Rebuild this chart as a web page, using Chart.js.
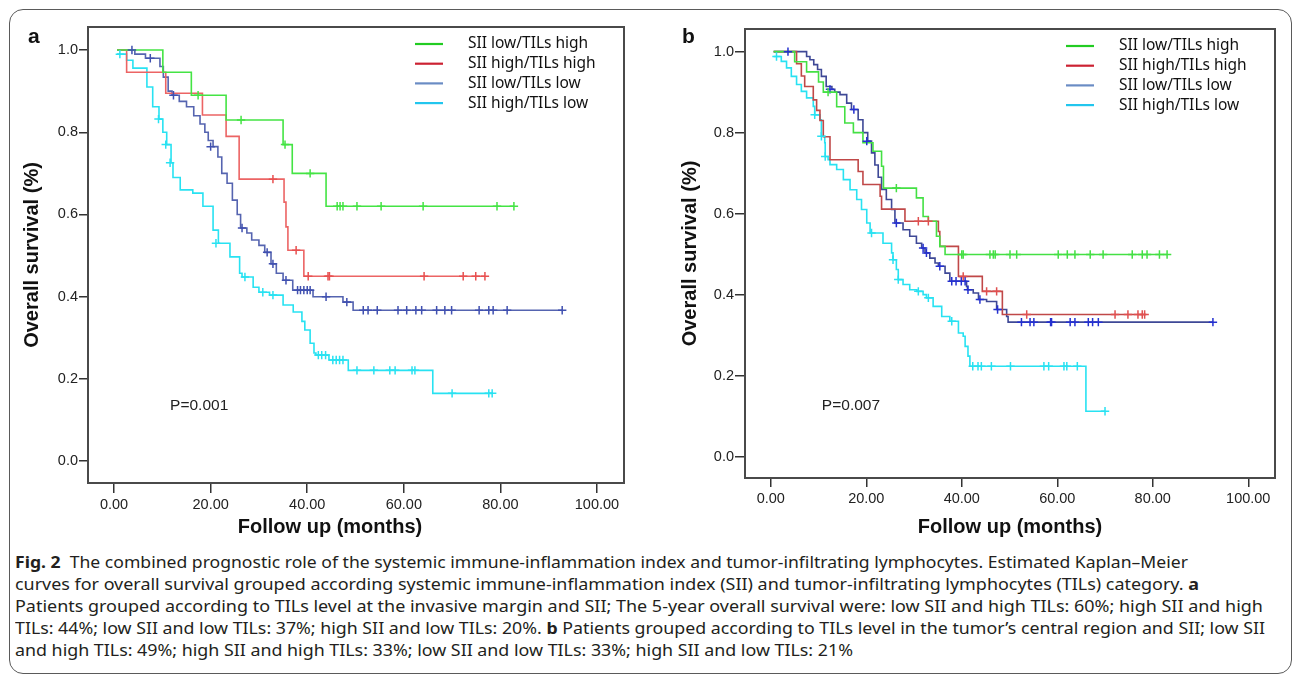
<!DOCTYPE html>
<html>
<head>
<meta charset="utf-8">
<script src="https://cdn.jsdelivr.net/npm/chart.js@4.4.1/dist/chart.umd.min.js"></script>
<style>
  html, body { margin: 0; padding: 0; background: #fff; }
  #fig { position: relative; width: 1292px; height: 687px; overflow: hidden; }
  #frame { position: absolute; left: 9px; top: 9px; width: 1281px; height: 663px;
           border: 1px solid #5a5a5a; border-radius: 14px; }
  canvas { position: absolute; top: 0; }
  #ca { left: 0; }
  #cb { left: 650px; }
  .lbl { position: absolute; top: 24px; font: bold 21px "Liberation Sans", Arial, sans-serif; color: #111; }
  #caption { position: absolute; left: 15px; top: 551px; font-family: "Noto Sans", sans-serif;
             font-size: 15.5px; line-height: 22px; color: #231f20; }
  #caption div { white-space: nowrap; transform-origin: 0 50%; width: max-content; }
</style>
</head>
<body>
<div id="fig">
  <div id="frame"></div>
  <canvas id="ca" width="650" height="545"></canvas>
  <canvas id="cb" width="642" height="545"></canvas>
  <div class="lbl" style="left:28px">a</div>
  <div class="lbl" style="left:682px">b</div>
  <div id="caption">
    <div><b>Fig. 2</b>&nbsp; The combined prognostic role of the systemic immune-inflammation index and tumor-infiltrating lymphocytes. Estimated Kaplan–Meier</div>
    <div>curves for overall survival grouped according systemic immune-inflammation index (SII) and tumor-infiltrating lymphocytes (TILs) category. <b>a</b></div>
    <div>Patients grouped according to TILs level at the invasive margin and SII; The 5-year overall survival were: low SII and high TILs: 60%; high SII and high</div>
    <div>TILs: 44%; low SII and low TILs: 37%; high SII and low TILs: 20%. <b>b</b> Patients grouped according to TILs level in the tumor’s central region and SII; low SII</div>
    <div>and high TILs: 49%; high SII and high TILs: 33%; low SII and low TILs: 33%; high SII and low TILs: 21%</div>
  </div>
</div>
<script>
// ---- data (months, survival) ----
const groupLabels = ['SII low/TILs high', 'SII high/TILs high', 'SII low/TILs low', 'SII high/TILs low'];
const xTicks = [0, 20, 40, 60, 80, 100];
const yTicks = [0, 0.2, 0.4, 0.6, 0.8, 1.0];
const xTitle = 'Follow up (months)';
const yTitle = 'Overall survival (%)';
const pValueA = 'P=0.001';
const pValueB = 'P=0.007';

// panel a: TILs at the invasive margin
const aGreen = [[0.6,1],[10.1,0.946],[16,0.89],[23.2,0.83],[35,0.77],[36.9,0.70],[43.9,0.62],[82.8,0.62]];
const aGreenCens = [[17.4,0.89],[26.3,0.83],[35.4,0.77],[40.6,0.70],[46.2,0.62],[46.8,0.62],[47.4,0.62],
  [50.3,0.62],[55.3,0.62],[64,0.62],[79.3,0.62],[82.8,0.62]];

const aRed = [[0.6,1],[2.6,0.946],[10.7,0.895],[18.3,0.842],[23.2,0.79],[25.9,0.686],[35.2,0.63],[35.6,0.57],
  [36,0.513],[39.3,0.45],[76.8,0.45]];
const aRedCens = [[32.9,0.686],[37.7,0.513],[40.2,0.45],[44.3,0.45],[44.6,0.45],[64.2,0.45],[72.3,0.45],
  [74.9,0.45],[76.8,0.45]];

const aBlue = [[0.6,1],[4.3,0.99],[6.5,0.98],[9.5,0.96],[10.2,0.934],[11.2,0.90],[12,0.89],[13.5,0.875],
  [15,0.862],[16.5,0.84],[17.8,0.82],[18.8,0.80],[19.5,0.78],[20.5,0.765],[21.5,0.74],[22.3,0.70],[23.4,0.676],
  [24.5,0.635],[25.5,0.60],[26.2,0.567],[27.5,0.555],[28.5,0.538],[30,0.525],[31.2,0.508],[32.5,0.48],
  [33.6,0.457],[35,0.44],[37,0.416],[41.2,0.40],[47.4,0.387],[49.5,0.367],[92.8,0.367]];
const aBlueCens = [[3.7,1],[7.5,0.98],[12.3,0.89],[20,0.765],[26.5,0.567],[31.7,0.508],[32.9,0.48],[35.6,0.44],
  [38,0.416],[38.6,0.416],[39.3,0.416],[40,0.416],[40.6,0.416],[43.9,0.40],[48.2,0.387],[51.6,0.367],
  [52.6,0.367],[54.5,0.367],[58.8,0.367],[60.6,0.367],[62.5,0.367],[63.7,0.367],[66.8,0.367],[68.5,0.367],
  [69.9,0.367],[75.6,0.367],[77.6,0.367],[78.5,0.367],[81.4,0.367],[92.8,0.367]];

const aCyan = [[0.6,0.99],[2.6,0.975],[3.9,0.956],[6.8,0.91],[8,0.862],[9.3,0.832],[10.1,0.80],[10.9,0.77],
  [11.8,0.726],[12.2,0.69],[13.7,0.66],[16.3,0.652],[18.4,0.62],[20.5,0.562],[21.6,0.53],[24,0.497],
  [26,0.457],[26.5,0.448],[28.8,0.423],[30,0.411],[32.2,0.404],[35,0.38],[37.1,0.363],[38.9,0.34],
  [39.5,0.319],[40.6,0.287],[41.4,0.263],[41.8,0.258],[44.5,0.246],[48.5,0.221],[66,0.165],[78.3,0.165]];
const aCyanCens = [[1.2,0.99],[9.2,0.832],[10.7,0.77],[11.6,0.726],[21.1,0.53],[27.1,0.448],[30.8,0.411],
  [32.9,0.404],[42.3,0.258],[43,0.258],[43.8,0.258],[45.3,0.246],[46,0.246],[46.7,0.246],[47.4,0.246],
  [50.3,0.221],[53.8,0.221],[57.1,0.221],[58.2,0.221],[61.7,0.221],[62.3,0.221],[70,0.165],[77.6,0.165],
  [78.3,0.165]];

// panel b: TILs in the tumor's central region
const bGreen = [[0.6,1],[5,0.975],[7.5,0.95],[10,0.925],[11,0.90],[13.8,0.864],[15.5,0.824],[17.3,0.80],
  [19.3,0.775],[21.4,0.754],[23.2,0.717],[23.6,0.663],[30.5,0.639],[31.9,0.593],[33,0.581],[34.7,0.544],
  [35.4,0.519],[36.5,0.499],[83,0.499]];
const bGreenCens = [[12,0.90],[26.3,0.663],[40,0.499],[40.3,0.499],[45.9,0.499],[46.6,0.499],[47,0.499],
  [50.1,0.499],[51.5,0.499],[60.2,0.499],[62.1,0.499],[63.7,0.499],[66.9,0.499],[69.6,0.499],[75.7,0.499],
  [77.8,0.499],[78.8,0.499],[81.4,0.499],[83,0.499]];

const bRed = [[0.6,1],[5.4,0.97],[6.4,0.94],[7.1,0.914],[8.9,0.881],[9.6,0.855],[10.3,0.83],[11,0.79],
  [12.4,0.733],[18.3,0.704],[19.3,0.672],[22.9,0.643],[23.2,0.611],[28.1,0.581],[35.1,0.556],[35.4,0.519],
  [39.3,0.445],[44.3,0.408],[48.5,0.351],[78.5,0.351]];
const bRedCens = [[30.9,0.581],[33,0.581],[40.3,0.445],[45.2,0.408],[47.3,0.408],[53.6,0.351],[72.1,0.351],
  [74.8,0.351],[76.9,0.351],[77.8,0.351],[78.3,0.351]];

const bBlue = [[0.6,1],[7.5,0.988],[8.2,0.98],[9,0.968],[9.8,0.956],[10.6,0.939],[11.6,0.914],[12.8,0.907],
  [13.4,0.90],[14.5,0.894],[15.9,0.873],[16.9,0.857],[18.3,0.832],[19.3,0.80],[20.3,0.779],[21.1,0.75],
  [21.8,0.72],[22.5,0.69],[23.2,0.66],[24.2,0.635],[25.3,0.61],[26,0.577],[27.7,0.56],[29.1,0.544],
  [30.5,0.527],[31.6,0.515],[32.3,0.503],[33.3,0.49],[34.4,0.478],[35.1,0.47],[36.5,0.453],[37.5,0.433],
  [41,0.42],[41.2,0.412],[42.4,0.404],[43.5,0.388],[45.2,0.383],[47.3,0.363],[49.4,0.346],[49.7,0.332],
  [92.6,0.332]];
const bBlueCens = [[3.6,1],[12.4,0.907],[17.4,0.857],[20.1,0.779],[26.3,0.577],[31.9,0.515],[32.6,0.503],
  [35.4,0.47],[37.9,0.433],[38.8,0.433],[39.9,0.433],[40.7,0.433],[41.3,0.412],[43.8,0.388],[47.5,0.363],
  [52.5,0.332],[54.3,0.332],[55.1,0.332],[58.6,0.332],[58.8,0.332],[62.7,0.332],[63.7,0.332],[66.5,0.332],
  [67.4,0.332],[68.6,0.332],[92.6,0.332]];

const bCyan = [[0.6,0.988],[2.2,0.976],[3.3,0.96],[4.3,0.939],[5.4,0.919],[6.4,0.902],[7.5,0.886],
  [8.9,0.865],[9.2,0.844],[10.3,0.832],[10.6,0.791],[11.3,0.775],[11.4,0.741],[12,0.733],[12.4,0.721],
  [13.8,0.709],[15.2,0.684],[16.6,0.659],[18,0.635],[19,0.61],[20.1,0.577],[20.8,0.552],[23.5,0.527],
  [25.3,0.503],[25.6,0.486],[26.3,0.462],[26.7,0.437],[27.7,0.425],[29.1,0.412],[30.6,0.408],[31.9,0.40],
  [32.6,0.392],[34,0.371],[35.8,0.346],[37.5,0.334],[39.3,0.305],[40.3,0.297],[40.7,0.272],[41.3,0.248],
  [41.7,0.223],[66,0.112],[70,0.112]];
const bCyanCens = [[1.2,0.988],[9.2,0.844],[10.6,0.791],[11.4,0.741],[21.1,0.552],[25.6,0.486],[26.7,0.437],
  [30.9,0.408],[33,0.392],[37.9,0.334],[42.3,0.223],[43.4,0.223],[44.1,0.223],[46.2,0.223],[50.2,0.223],
  [57.2,0.223],[58.2,0.223],[61.4,0.223],[62,0.223],[64.2,0.223],[70,0.112]];

// ---- styling ----
const FONT = '"Liberation Sans", Arial, sans-serif';
const legendColors = ['#22cc22', '#cc2233', '#6a8cc4', '#22c6ee'];
const lineColorsA = ['#44e444', '#ec6464', '#5564b0', '#28e2f2'];
const censColorsA = ['#44e444', '#e85050', '#4050b0', '#28e2f2'];
const lineColorsB = ['#44e044', '#c04848', '#3e4896', '#28e2f2'];
const censColorsB = ['#44e044', '#e05050', '#2430d0', '#28e2f2'];

const toXY = arr => arr.map(([x, y]) => ({ x, y }));

const kmPlugin = {
  id: 'kmDecor',
  afterDraw(chart, args, opts) {
    const { ctx, chartArea: a, scales } = chart;
    ctx.save();
    // plot frame
    ctx.strokeStyle = '#4a4a4a';
    ctx.lineWidth = 2;
    ctx.strokeRect(a.left, a.top, a.right - a.left, a.bottom - a.top);
    // legend: coloured line + label, upper right inside the plot
    ctx.font = '15.5px "Noto Sans", sans-serif';
    ctx.textBaseline = 'middle';
    ctx.textAlign = 'left';
    groupLabels.forEach((lab, i) => {
      const y = a.top + 17 + i * 19.7;
      ctx.strokeStyle = legendColors[i];
      ctx.lineWidth = 2.2;
      ctx.beginPath();
      ctx.moveTo(a.right - 209, y);
      ctx.lineTo(a.right - 181, y);
      ctx.stroke();
      ctx.fillStyle = '#111';
      ctx.fillText(lab, a.right - 156, y);
    });
    // p value
    ctx.font = '15.5px ' + FONT;
    ctx.fillStyle = '#222';
    ctx.fillText(opts.pText, scales.x.getPixelForValue(opts.pAt[0]), scales.y.getPixelForValue(opts.pAt[1]));
    // x axis title (panel a sits a little left of the plot centre in the original)
    ctx.font = 'bold 20px ' + FONT;
    ctx.fillStyle = '#111';
    ctx.textAlign = 'center';
    ctx.fillText(xTitle, (a.left + a.right) / 2 + opts.xTitleShift, chart.height - 18);
    ctx.restore();
  }
};

function makeChart(id, lines, cens, lineColors, censColors, geo) {
  const datasets = [];
  cens.forEach((c, i) => datasets.push({
    data: toXY(c), showLine: false, pointStyle: 'cross', pointRadius: 4.2,
    pointBorderWidth: 1.5, borderColor: censColors[i], backgroundColor: censColors[i]
  }));
  lines.forEach((l, i) => datasets.push({
    label: groupLabels[i], data: toXY(l), showLine: true, stepped: true, pointRadius: 0,
    borderColor: lineColors[i], borderWidth: 1.6, fill: false
  }));

  return new Chart(document.getElementById(id), {
    type: 'scatter',
    data: { datasets },
    options: {
      responsive: false,
      animation: false,
      layout: { padding: { left: 0, top: geo.top, right: geo.right, bottom: 0 } },
      plugins: {
        legend: { display: false },
        tooltip: { enabled: false },
        kmDecor: { pText: geo.pText, pAt: geo.pAt, xTitleShift: geo.xTitleShift }
      },
      scales: {
        x: {
          type: 'linear', min: -5.4, max: 105.6,
          afterBuildTicks: s => { s.ticks = xTicks.map(v => ({ value: v })); },
          afterFit: s => { s.height = geo.xAxisH; },
          grid: { drawOnChartArea: false, drawTicks: true, tickLength: geo.xTickLen, color: '#333', lineWidth: 1.5 },
          border: { display: false },
          ticks: { autoSkip: false, maxRotation: 0, padding: 3, color: '#222',
                   font: { family: FONT, size: 14.5 }, callback: v => Number(v).toFixed(2) },
          title: { display: false }
        },
        y: {
          min: -0.053, max: 1.056,
          afterBuildTicks: s => { s.ticks = yTicks.map(v => ({ value: v })); },
          afterFit: s => { s.width = geo.yAxisW; },
          grid: { drawOnChartArea: false, drawTicks: true, tickLength: geo.yTickLen, color: '#333', lineWidth: 1.5 },
          border: { display: false },
          ticks: { autoSkip: false, padding: 1, color: '#222',
                   font: { family: FONT, size: 14.5 }, callback: v => Number(v).toFixed(1) },
          title: { display: true, text: yTitle, color: '#111',
                   font: { family: FONT, size: 20, weight: 'bold' }, padding: { top: geo.yTitlePad, bottom: 0 } }
        }
      }
    },
    plugins: [kmPlugin]
  });
}

makeChart('ca', [aGreen, aRed, aBlue, aCyan], [aGreenCens, aRedCens, aBlueCens, aCyanCens],
  lineColorsA, censColorsA,
  { top: 27, right: 26, xAxisH: 62, yAxisW: 88, xTickLen: 10, yTickLen: 9, yTitlePad: 20,
    xTitleShift: -26, pText: pValueA, pAt: [11.6, 0.134] });

makeChart('cb', [bGreen, bRed, bBlue, bCyan], [bGreenCens, bRedCens, bBlueCens, bCyanCens],
  lineColorsB, censColorsB,
  { top: 29, right: 17, xAxisH: 67, yAxisW: 95, xTickLen: 9, yTickLen: 10, yTitlePad: 28,
    xTitleShift: 0, pText: pValueB, pAt: [10.7, 0.126] });

// stretch caption lines to the measured widths of the original typesetting
const captionWidths = [1173, 1184, 1248, 1250, 838];
document.querySelectorAll('#caption div').forEach((d, i) => {
  const w = d.getBoundingClientRect().width;
  d.style.transform = 'scaleX(' + (captionWidths[i] / w).toFixed(4) + ')';
});
</script>
</body>
</html>
